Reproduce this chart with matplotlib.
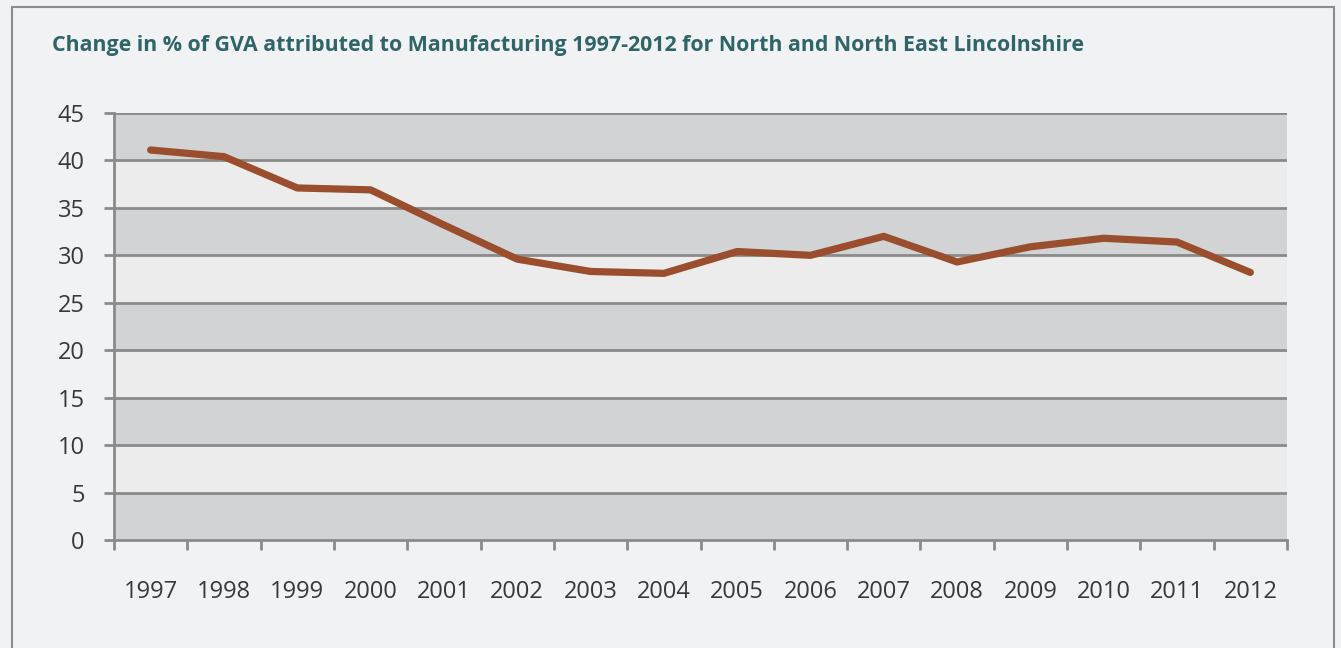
import matplotlib.pyplot as plt
from matplotlib.patches import Rectangle
import numpy as np

years = ["1997", "1998", "1999", "2000", "2001", "2002", "2003", "2004",
         "2005", "2006", "2007", "2008", "2009", "2010", "2011", "2012"]
gva_pct = [41.1, 40.4, 37.1, 36.9, 33.2, 29.6, 28.3, 28.1,
           30.4, 30.0, 32.0, 29.3, 30.9, 31.8, 31.4, 28.2]
y_ticks = [0, 5, 10, 15, 20, 25, 30, 35, 40, 45]

bg = "#f1f2f4"
dark_band = "#d2d3d5"
light_band = "#ebeceb"
grid_col = "#8a8a8a"
line_col = "#9a4e2e"
title_col = "#2f6468"
txt_col = "#383838"

plt.rcParams['font.family'] = ['Open Sans', 'DejaVu Sans']

fig = plt.figure(figsize=(13.41, 6.48), dpi=100, facecolor=bg)
# outer frame
fig.patches.append(Rectangle((12/1341, -0.1), (1334-12)/1341, 1.1 - 7/648,
                             transform=fig.transFigure, fill=False,
                             edgecolor="#8c8c8c", linewidth=1.5))

ax = fig.add_axes([114/1341, 108/648, (1287-114)/1341, (540-113)/648])
ax.set_facecolor(light_band)

# alternating bands
for i in range(len(y_ticks) - 1):
    if i % 2 == 0:
        ax.axhspan(y_ticks[i], y_ticks[i+1], color=dark_band, zorder=0, lw=0)
for t in y_ticks[1:]:
    ax.axhline(t, color=grid_col, linewidth=2, zorder=1)

x = np.arange(len(years))
ax.plot(x, gva_pct, color=line_col, linewidth=5.2, solid_capstyle="round",
        solid_joinstyle="round", zorder=3)

ax.set_xlim(-0.5, len(years) - 0.5)
ax.set_ylim(0, 45)
ax.set_yticks(y_ticks)
ax.set_yticklabels([str(t) for t in y_ticks], fontsize=17, color=txt_col)
ax.set_xticks(np.arange(len(years) + 1) - 0.5)
ax.set_xticklabels([])
ax.set_xticks(x, minor=True)
ax.set_xticklabels(years, minor=True, fontsize=17, color=txt_col)
ax.tick_params(axis="x", which="major", direction="out", length=7, width=2,
               color=grid_col)
ax.tick_params(axis="x", which="minor", length=0, pad=29)
ax.tick_params(axis="y", direction="out", length=7, width=2, color=grid_col,
               pad=14)

for s in ["top", "right"]:
    ax.spines[s].set_visible(False)
for s in ["left", "bottom"]:
    ax.spines[s].set_color(grid_col)
    ax.spines[s].set_linewidth(2)

fig.text(52/1341, 1 - 46/648,
         "Change in % of GVA attributed to Manufacturing 1997-2012 for North and North East Lincolnshire",
         fontsize=15.4, fontweight="bold", color=title_col, va="center", ha="left")

fig.savefig("out.png", dpi=100, facecolor=bg)
